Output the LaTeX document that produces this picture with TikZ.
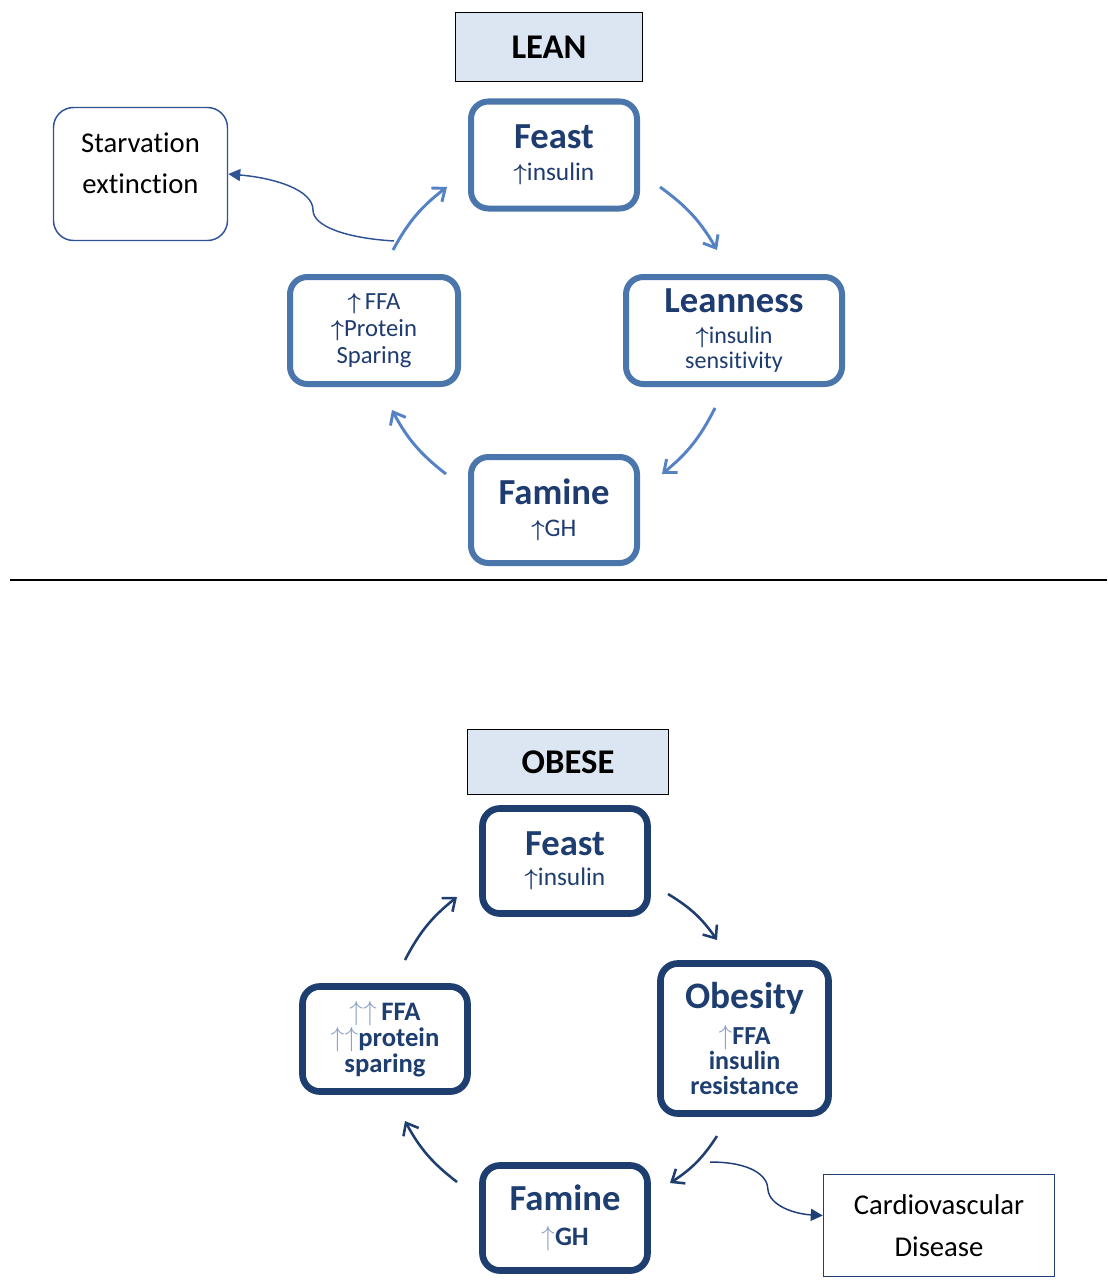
\documentclass[tikz,border=0pt]{standalone}
\usepackage{fontspec}
\setmainfont{Carlito}[Ligatures=NoCommon]
\usetikzlibrary{arrows.meta}
\definecolor{leanblue}{RGB}{74,118,172}
\definecolor{leantext}{RGB}{31,60,112}
\definecolor{leanarr}{RGB}{84,130,196}
\definecolor{obblue}{RGB}{30,62,112}
\definecolor{obtext}{RGB}{30,62,112}
\definecolor{oblight}{RGB}{140,162,196}
\definecolor{titlefill}{RGB}{220,230,242}
\definecolor{starvblue}{RGB}{47,84,150}
\definecolor{cardioblue}{RGB}{31,62,120}
\newcommand\fs[2]{\fontsize{#1pt}{#2pt}\selectfont}
\newcommand\upa{{\boldmath$\uparrow$}}
\newcommand\upl{\textcolor{oblight}{$\uparrow$}}
\tikzset{
  leanbox/.style={draw=leanblue, line width=4.5pt, rounded corners=13pt, fill=white, align=center, text=leantext, inner sep=0pt},
  obbox/.style={draw=obblue, line width=5pt, rounded corners=13pt, fill=white, align=center, text=obtext, inner sep=0pt},
  titlebox/.style={draw=black, line width=1.1pt, fill=titlefill, font=\fs{26}{30}\bfseries, inner sep=0pt},
  leanarrow/.style={draw=leanarr, line width=2.2pt, -{Straight Barb[length=8pt,width=13pt]}, bend left=12},
  obarrow/.style={draw=obblue, line width=1.9pt, -{Straight Barb[length=8pt,width=13pt]}, bend left=12},
  sidebox/.style={draw=#1, line width=1.1pt, align=center, text=black, font=\fs{21.5}{31}, inner sep=0pt},
  sidelink/.style={draw=#1, line width=1.1pt, -{Triangle[length=9pt,width=9pt]}},
}
\begin{document}
\begin{tikzpicture}[x=0.75pt,y=-0.75pt]
\path[use as bounding box, fill=white] (0,0) rectangle (1107,1281);

% ---------------- LEAN ----------------
\node[titlebox, minimum width=140.25pt, minimum height=51.75pt] (leantitle) at (549,47) {LEAN};

\node[leanbox, minimum width=124.5pt, minimum height=80.25pt, font=\fs{19}{24}] (lfeast) at (554,155)
  {{\fs{27.5}{30}\bfseries Feast}\\{\upa insulin}};
\node[leanbox, minimum width=162pt, minimum height=80.25pt, font=\fs{18}{19}] (lleanness) at (734,330.5)
  {{\fs{27.5}{30}\bfseries Leanness}\\[4pt]{\upa insulin}\\sensitivity};
\node[leanbox, minimum width=124.5pt, minimum height=79.5pt, font=\fs{19}{24}] (lfamine) at (554,510)
  {{\fs{27.5}{30}\bfseries Famine}\\{\upa GH}};
\node[leanbox, minimum width=126pt, minimum height=80.25pt, font=\fs{18.5}{20}] (lffa) at (374,330.5)
  {\upa\,FFA\\\upa Protein\\Sparing};

\node[sidebox=starvblue, rounded corners=15pt, minimum width=130.5pt, minimum height=99.75pt] (starv) at (140.5,174)
  {Starvation\\extinction\\[-15pt]\mbox{}};

\coordinate (a1s) at (393,250); \coordinate (a1e) at (447,187);
\coordinate (a2s) at (660,187); \coordinate (a2e) at (717,250);
\coordinate (a3s) at (715,408); \coordinate (a3e) at (662,474);
\coordinate (a4s) at (446,474); \coordinate (a4e) at (392,410);
\draw[leanarrow] (a1s) to (a1e);
\draw[leanarrow] (a2s) to (a2e);
\draw[leanarrow] (a3s) to (a3e);
\draw[leanarrow] (a4s) to (a4e);

\coordinate (starvsrc) at (394,241);
\draw[sidelink=starvblue] (starvsrc) .. controls (345,238) and (313,226) .. (313,210)
  .. controls (313,190) and (275,178) .. (starv.east);

% separator
\draw[line width=1.5pt] (10,580) -- (1107,580);

% ---------------- OBESE ----------------
\node[titlebox, minimum width=150.75pt, minimum height=48.75pt] (obtitle) at (568,762) {OBESE};

\node[obbox, minimum width=123.75pt, minimum height=78.75pt, font=\fs{19}{23}] (ofeast) at (565,861)
  {{\fs{27.5}{30}\bfseries Feast}\\{\upa insulin}};
\node[obbox, minimum width=126pt, minimum height=112.5pt, font=\fs{19.5}{18.5}\bfseries] (oobesity) at (744.5,1038.5)
  {{\fs{28}{30}\bfseries Obesity}\\[7pt]{\upl FFA}\\insulin\\resistance};
\node[obbox, minimum width=123.75pt, minimum height=78.75pt, font=\fs{20}{26.5}] (ofamine) at (565,1218)
  {{\fs{27.5}{30}\bfseries Famine}\\{\bfseries\upl GH}};
\node[obbox, minimum width=123.75pt, minimum height=78.75pt, font=\fs{20}{19.5}\bfseries] (offa) at (385,1039)
  {\upl\upl\,FFA\\\upl\upl protein\\sparing};

\node[sidebox=cardioblue, minimum width=173.25pt, minimum height=76.5pt] (cardio) at (939,1225.5)
  {Cardiovascular\\Disease};

\coordinate (b1s) at (405,960); \coordinate (b1e) at (457,897);
\coordinate (b2s) at (668,894); \coordinate (b2e) at (717,940);
\coordinate (b3s) at (717,1136); \coordinate (b3e) at (670,1183);
\coordinate (b4s) at (457,1182); \coordinate (b4e) at (405,1121);
\draw[obarrow] (b1s) to (b1e);
\draw[obarrow] (b2s) to (b2e);
\draw[obarrow] (b3s) to (b3e);
\draw[obarrow] (b4s) to (b4e);

\coordinate (cardiosrc) at (710,1162);
\draw[sidelink=cardioblue] (cardiosrc) .. controls (750,1162) and (768,1175) .. (768,1190)
  .. controls (770,1206) and (795,1214) .. ([yshift=7.5pt]cardio.west);
\end{tikzpicture}
\end{document}
